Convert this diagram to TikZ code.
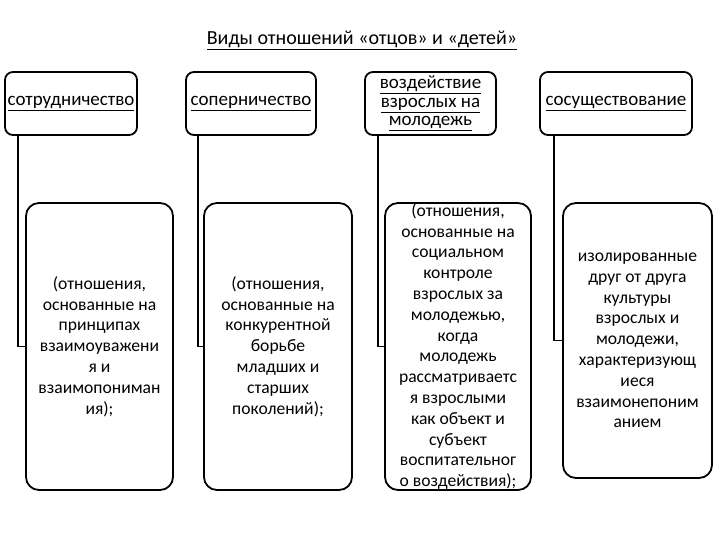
\documentclass[tikz,border=0pt]{standalone}
\usepackage{fontspec}
\setmainfont{Carlito}
\begin{document}
\begin{tikzpicture}[x=1pt,y=-1pt,
  topbox/.style={draw,line width=1.8pt,rounded corners=8pt,align=center,inner sep=0pt,font=\fontsize{19}{18.5}\selectfont},
  lowbox/.style={draw,line width=1.8pt,rounded corners=13pt,align=center,inner sep=0pt,font=\fontsize{17.6}{20.8}\selectfont},
  link/.style={line width=1.6pt}]
\useasboundingbox (0,0) rectangle (720,540);
\node[font=\fontsize{20}{22}\selectfont] (title) at (362,40) {\underline{Виды отношений «отцов» и «детей»}};
\node[topbox,minimum width=132pt,minimum height=63pt] (t1) at (71,103.5) {\underline{сотрудничество}};
\node[topbox,minimum width=130pt,minimum height=63pt] (t2) at (251,103.5) {\underline{соперничество}};
\node[topbox,minimum width=131pt,minimum height=63pt] (t3) at (430.5,103.5) {\underline{воздействие}\\\underline{взрослых на}\\\underline{молодежь}};
\node[topbox,minimum width=152pt,minimum height=63pt] (t4) at (616,103.5) {\underline{сосуществование}};
\node[lowbox,minimum width=147pt,minimum height=287pt] (b1) at (99.5,346.5) {(отношения,\\основанные на\\принципах\\взаимоуважени\\я и\\взаимопониман\\ия);};
\node[lowbox,minimum width=148pt,minimum height=287pt] (b2) at (278,346.5) {(отношения,\\основанные на\\конкурентной\\борьбе\\младших и\\старших\\поколений);};
\node[lowbox,minimum width=146pt,minimum height=287pt] (b3) at (458,346.5) {(отношения,\\основанные на\\социальном\\контроле\\взрослых за\\молодежью,\\когда\\молодежь\\рассматриваетс\\я взрослыми\\как объект и\\субъект\\воспитательног\\о воздействия);};
\node[lowbox,minimum width=149pt,minimum height=275pt] (b4) at (637.5,340.5) {изолированные\\друг от друга\\культуры\\взрослых и\\молодежи,\\характеризующ\\иеся\\взаимонепоним\\анием};
\draw[link] ([xshift=14pt]t1.south west) |- (b1.west);
\draw[link] ([xshift=13pt]t2.south west) |- (b2.west);
\draw[link] ([xshift=14pt]t3.south west) |- (b3.west);
\draw[link] ([xshift=15pt]t4.south west) |- (b4.west);
\end{tikzpicture}
\end{document}
